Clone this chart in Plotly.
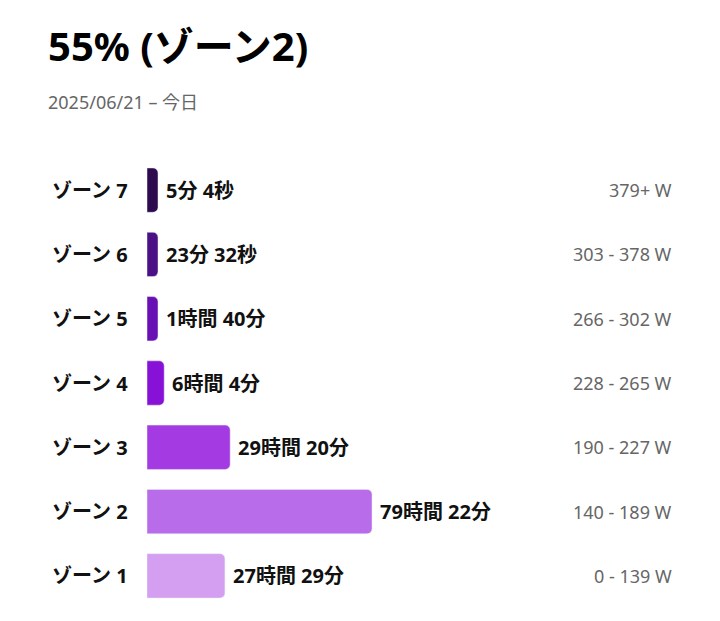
import plotly.graph_objects as go

zones = ["ゾーン 7", "ゾーン 6", "ゾーン 5", "ゾーン 4", "ゾーン 3", "ゾーン 2", "ゾーン 1"]
minutes = [5.07, 23.53, 100, 364, 1760, 4762, 1649]
time_labels = ["5分 4秒", "23分 32秒", "1時間 40分", "6時間 4分", "29時間 20分", "79時間 22分", "27時間 29分"]
power_ranges = ["379+ W", "303 - 378 W", "266 - 302 W", "228 - 265 W", "190 - 227 W", "140 - 189 W", "0 - 139 W"]
colors = ["#2d0b4e", "#4b0f86", "#6910b4", "#8711d6", "#a43be2", "#b96ce9", "#d49ef1"]

W, H = 720, 621
OFF = 8  # page offset seen in the rendered output
ML, MT, MB = 147 - OFF, 158 - OFF, 13 + OFF
plot_w = W - ML
plot_h = H - MT - MB
x_max = 4762 * plot_w / 225
min_w = 11 * x_max / plot_w  # small bars still get a visible stub
shown = [max(m, min_w) for m in minutes]

font = "Noto Sans, Noto Sans CJK JP"

fig = go.Figure(go.Bar(
    x=shown, y=zones, orientation="h",
    marker=dict(color=colors, cornerradius=5),
    width=0.69, hoverinfo="skip",
))

ann = []
for z, s, t, p in zip(zones, shown, time_labels, power_ranges):
    ann.append(dict(x=s, y=z, xref="x", yref="y", text=f"<b>{t}</b>", showarrow=False,
                    xanchor="left", xshift=6, font=dict(size=20, color="#111", family=font)))
    ann.append(dict(x=(130 - ML - OFF) / plot_w, y=z, xref="paper", yref="y", text=f"<b>{z}</b>",
                    showarrow=False, xanchor="right", font=dict(size=20, color="#111", family=font)))
    ann.append(dict(x=(674 - ML - OFF) / plot_w, y=z, xref="paper", yref="y", text=p,
                    showarrow=False, xanchor="right", font=dict(size=18, color="#666", family=font)))

ann.append(dict(x=(46 - ML - OFF) / plot_w, y=(H - MB - 45 + OFF) / plot_h, xref="paper", yref="paper",
                text="<b>55% (ゾーン2)</b>", showarrow=False, xanchor="left", yanchor="middle",
                font=dict(size=40, color="#000", family=font)))
ann.append(dict(x=(46 - ML - OFF) / plot_w, y=(H - MB - 102 + OFF) / plot_h, xref="paper", yref="paper",
                text="2025/06/21 – 今日", showarrow=False, xanchor="left", yanchor="middle",
                font=dict(size=18, color="#666", family=font)))

fig.update_layout(
    width=W, height=H,
    margin=dict(l=ML, r=0, t=MT, b=MB),
    plot_bgcolor="white", paper_bgcolor="white",
    showlegend=False,
    xaxis=dict(range=[0, x_max], visible=False),
    yaxis=dict(categoryorder="array", categoryarray=zones, autorange="reversed",
               visible=False),
    annotations=ann,
)

fig.write_html("out.html")
